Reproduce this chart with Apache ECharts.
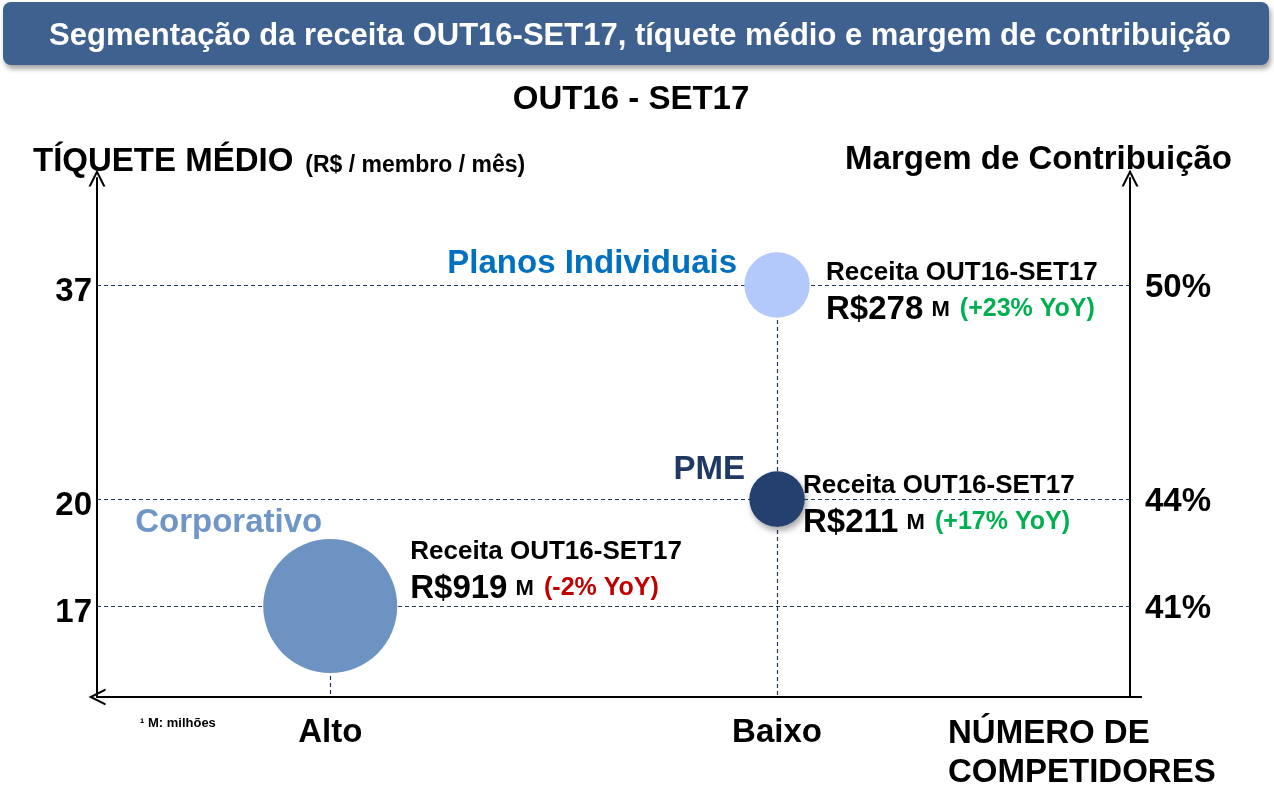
<!DOCTYPE html>
<html>
<head>
<meta charset="utf-8">
<title>Segmentação da receita</title>
<script src="https://cdn.jsdelivr.net/npm/echarts@6/dist/echarts.min.js"></script>
<style>
  html, body { margin: 0; padding: 0; background: #fff; }
  #chart { width: 1274px; height: 785px; }
</style>
</head>
<body>
<div id="chart"></div>
<script>
// dados
const periodo = 'OUT16-SET17';
const segmentos = ['Corporativo', 'PME', 'Planos Individuais'];
const competidores = ['Alto', 'Baixo'];            // eixo x
const nivelCompetidores = ['Alto', 'Baixo', 'Baixo'];
const tiquete = [17, 20, 37];                      // R$ / membro / mês
const margem = [41, 44, 50];                       // margem de contribuição (%)
const receita = [919, 211, 278];                   // R$ milhões
const variacaoYoY = [-2, 17, 23];                  // %

// estilo por segmento
const estilo = {
    'Corporativo': { cor: '#6C93C2', corNome: '#7096C8', nomeOffset: [-8, -83], receitaOffset: [80, -36] },
    'PME': { cor: '#23406F', corNome: '#1F3864', nomeOffset: [-32, -29], receitaOffset: [26, 5], sombra: true },
    'Planos Individuais': { cor: '#B3C8FB', corNome: '#0070C0', nomeOffset: [-40, -21], receitaOffset: [49, 6] }
};

const fonte = '"Liberation Sans", Arial, sans-serif';
const xMin = 0.478, xMax = 2.79;
const yMin = 38.45, yMax = 53.0;
const seta = 'path://M0,12 L6,0 L12,12 L10.4,12 L6,3.2 L1.6,12 Z';

const xDe = (i) => competidores.indexOf(nivelCompetidores[i]) + 1;
const tamanho = (r) => 134 * Math.pow(r / Math.max(...receita), 0.6);

const pontos = segmentos.map((s, i) => ({
    name: s,
    value: [xDe(i), margem[i], receita[i], tiquete[i], variacaoYoY[i]],
    symbolSize: tamanho(receita[i]),
    itemStyle: {
        color: estilo[s].cor,
        opacity: 1,
        shadowBlur: estilo[s].sombra ? 6 : 0,
        shadowOffsetX: estilo[s].sombra ? 2 : 0,
        shadowOffsetY: estilo[s].sombra ? 4 : 0,
        shadowColor: 'rgba(0,0,0,0.35)'
    },
    label: { offset: estilo[s].receitaOffset }
}));

const nomes = segmentos.map((s, i) => ({
    name: s,
    value: [xDe(i), margem[i]],
    label: { offset: estilo[s].nomeOffset, color: estilo[s].corNome }
}));

// linhas tracejadas de referência
const guias = [];
margem.forEach((m) => guias.push({ yAxis: m }));
competidores.forEach((c, k) => {
    const ms = margem.filter((m, i) => nivelCompetidores[i] === c);
    if (ms.length) guias.push([{ coord: [k + 1, Math.max(...ms)] }, { coord: [k + 1, yMin] }]);
});

const eixoLinha = (simbolo) => ({
    show: true,
    onZero: false,
    symbol: simbolo,
    symbolSize: [17, 17],
    lineStyle: { color: '#000', width: 2 }
});

const rotuloEixo = (desce) => ({
    t: { fontSize: 33, fontWeight: 'bold', fontFamily: fonte, color: '#000', padding: [desce, 0, 0, 0] }
});

const chart = echarts.init(document.getElementById('chart'));
const option = {
    backgroundColor: '#fff',
    textStyle: { fontFamily: fonte },
    animation: false,
    grid: { left: 97, right: 144, top: 178, bottom: 88 },
    xAxis: {
        type: 'value',
        min: xMin,
        max: xMax,
        splitLine: { show: false },
        axisTick: { show: false },
        axisLine: eixoLinha([seta, 'none']),
        axisLabel: {
            customValues: competidores.map((c, k) => k + 1),
            formatter: (v) => competidores[Math.round(v) - 1],
            margin: 19,
            color: '#000',
            fontSize: 33,
            fontWeight: 'bold',
            fontFamily: fonte
        }
    },
    yAxis: [
        {
            type: 'value',
            position: 'left',
            min: yMin,
            max: yMax,
            splitLine: { show: false },
            axisTick: { show: false },
            axisLine: eixoLinha(['none', seta]),
            axisLabel: {
                customValues: margem,
                formatter: (v) => '{t|' + tiquete[margem.indexOf(v)] + '}',
                margin: 5,
                rich: rotuloEixo(14)
            }
        },
        {
            type: 'value',
            position: 'right',
            min: yMin,
            max: yMax,
            splitLine: { show: false },
            axisTick: { show: false },
            axisLine: eixoLinha(['none', seta]),
            axisLabel: {
                customValues: margem,
                formatter: (v) => '{t|' + v + '%}',
                margin: 15,
                rich: rotuloEixo(6)
            }
        }
    ],
    graphic: [
        {
            type: 'rect',
            shape: { x: 3, y: 2, width: 1266, height: 63, r: 8 },
            style: { fill: '#3F6190', shadowBlur: 5, shadowOffsetX: 2, shadowOffsetY: 4, shadowColor: 'rgba(0,0,0,0.35)' },
            z: 10
        },
        {
            type: 'text',
            x: 640, y: 36,
            style: {
                text: 'Segmentação da receita ' + periodo + ', tíquete médio e margem de contribuição',
                fill: '#fff', font: 'bold 31px ' + fonte, align: 'center', verticalAlign: 'middle'
            },
            z: 11
        },
        {
            type: 'text',
            x: 631, y: 100,
            style: { text: 'OUT16 - SET17', fill: '#000', font: 'bold 33px ' + fonte, align: 'center', verticalAlign: 'middle' }
        },
        {
            type: 'text',
            x: 33, y: 162,
            style: {
                text: '{a|TÍQUETE MÉDIO}{b|(R$ / membro / mês)}',
                verticalAlign: 'middle',
                rich: {
                    a: { fontSize: 33, fontWeight: 'bold', fontFamily: fonte, fill: '#000' },
                    b: { fontSize: 23, fontWeight: 'bold', fontFamily: fonte, fill: '#000', padding: [8, 0, 0, 12] }
                }
            }
        },
        {
            type: 'text',
            x: 1232, y: 160,
            style: { text: 'Margem de Contribuição', fill: '#000', font: 'bold 33px ' + fonte, align: 'right', verticalAlign: 'middle' }
        },
        {
            type: 'text',
            x: 948, y: 753,
            style: {
                text: 'NÚMERO DE\nCOMPETIDORES', fill: '#000', font: 'bold 33px ' + fonte,
                align: 'left', verticalAlign: 'middle', lineHeight: 39
            }
        },
        {
            type: 'text',
            x: 140, y: 723,
            style: { text: '¹ M: milhões', fill: '#000', font: 'bold 13px ' + fonte, align: 'left', verticalAlign: 'middle' }
        },
        {
            // prolongamento do eixo x além do eixo direito
            type: 'line',
            shape: { x1: 1130, y1: 697, x2: 1142, y2: 697 },
            style: { stroke: '#000', lineWidth: 2 }
        }
    ],
    series: [
        {
            name: 'Receita',
            type: 'scatter',
            z: 3,
            data: pontos,
            emphasis: { disabled: true },
            label: {
                show: true,
                position: 'inside',
                align: 'left',
                verticalAlign: 'middle',
                formatter: (p) => {
                    const v = p.value[4];
                    const tag = v < 0 ? 'neg' : 'pos';
                    return '{l1|Receita ' + periodo + '}\n{v|R$' + p.value[2] + '}{m| M }{' + tag + '|(' + (v > 0 ? '+' : '') + v + '% YoY)}';
                },
                rich: {
                    l1: { fontSize: 26, fontWeight: 'bold', color: '#000', lineHeight: 37, fontFamily: fonte },
                    v: { fontSize: 33, fontWeight: 'bold', color: '#000', lineHeight: 37, fontFamily: fonte },
                    m: { fontSize: 22, fontWeight: 'bold', color: '#000', lineHeight: 37, fontFamily: fonte, padding: [0, 4, 0, 2] },
                    pos: { fontSize: 25, fontWeight: 'bold', color: '#00B050', lineHeight: 37, fontFamily: fonte },
                    neg: { fontSize: 25, fontWeight: 'bold', color: '#C00000', lineHeight: 37, fontFamily: fonte }
                }
            },
            markLine: {
                z: 1,
                silent: true,
                symbol: 'none',
                label: { show: false },
                lineStyle: { color: '#1F3864', width: 1.2, type: [4, 3] },
                data: guias
            }
        },
        {
            name: 'Segmento',
            type: 'scatter',
            z: 4,
            silent: true,
            symbolSize: 1,
            itemStyle: { color: 'rgba(0,0,0,0)', opacity: 1 },
            data: nomes,
            label: {
                show: true,
                position: 'inside',
                align: 'right',
                verticalAlign: 'middle',
                formatter: '{b}',
                fontSize: 33,
                fontWeight: 'bold',
                fontFamily: fonte
            }
        }
    ]
};
chart.setOption(option);
</script>
</body>
</html>
